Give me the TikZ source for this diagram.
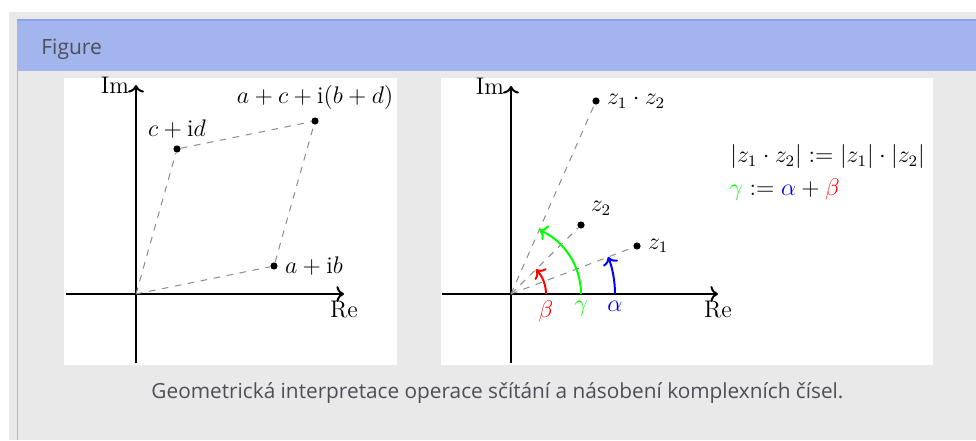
\documentclass[tikz,border=0pt]{standalone}
\usepackage{fontspec}
\usepackage{tikz}
\usetikzlibrary{arrows.meta,positioning}
\newfontfamily\uifont{Open Sans}
\definecolor{pagegray}{RGB}{233, 233, 233}
\definecolor{headerblue}{RGB}{162, 181, 236}
\definecolor{headerline}{RGB}{140, 164, 230}
\definecolor{labelgray}{RGB}{78, 78, 88}
\definecolor{guidegray}{RGB}{140, 140, 140}

\begin{document}
\begin{tikzpicture}[x=0.5pt, y=0.5pt,
    axis/.style={line width=1pt, ->},
    guide/.style={guidegray, line width=0.5pt, dash pattern=on 3.3pt off 3.3pt},
    dot/.style={circle, fill=black, inner sep=0pt, minimum size=3.6pt},
    mathlbl/.style={font=\fontsize{12}{14}\selectfont, inner sep=3.3pt},
    anglearc/.style={line width=1pt, ->}]
  % frame
  \useasboundingbox (0,0) rectangle (976,440);
  \fill[white] (0,0) rectangle (976,440);
  \fill[pagegray] (9,0) rectangle (976,428);
  \fill[headerblue] (17,369) rectangle (976,420);
  \draw[headerline, line width=0.75pt] (17,420) -- (976,420);
  \draw[headerblue, line width=0.9pt] (17.5,0) -- (17.5,369);
  \fill[white] (64,75) rectangle (397,362);
  \fill[white] (441,75) rectangle (933,362);
  \node[anchor=base west, inner sep=0pt, text=labelgray,
        font=\uifont\fontsize{10.5}{13}\selectfont] (title) at (41,385) {Figure};
  \node[anchor=base, inner sep=0pt, text=labelgray,
        font=\uifont\fontsize{10.4}{12}\selectfont] (caption) at (497.5,42)
        {Geometrická interpretace operace sčítání a násobení komplexních čísel.};

  % addition
  \begin{scope}[shift={(136,146)}]
    \coordinate (O1) at (0,0);
    \coordinate (xmin1) at (-70,0);
    \coordinate (xmax1) at (208,0);
    \coordinate (ymin1) at (0,-69);
    \coordinate (ymax1) at (0,209);
    \draw[axis] (xmin1) -- (xmax1);
    \draw[axis] (ymin1) -- (ymax1);
    \node[mathlbl, below] (re1) at (xmax1) {$\mathrm{Re}$};
    \node[mathlbl, left] (im1) at (ymax1) {$\mathrm{Im}$};
    \node[dot] (ab) at (138,28) {};
    \node[dot] (cd) at (41,145) {};
    \node[dot] (sum) at (179,173) {};
    \draw[guide] (O1) -- (ab);
    \draw[guide] (O1) -- (cd);
    \draw[guide] (ab) -- (sum);
    \draw[guide] (cd) -- (sum);
    \node[mathlbl, right] (ablbl) at (ab.east) {$a+\mathrm{i}b$};
    \node[mathlbl, above] (cdlbl) at (cd.north) {$c+\mathrm{i}d$};
    \node[mathlbl, above] (sumlbl) at (sum.north) {$a+c+\mathrm{i}(b+d)$};
  \end{scope}

  % multiplication
  \begin{scope}[shift={(511,146)}]
    \coordinate (O2) at (0,0);
    \coordinate (xmin2) at (-69,0);
    \coordinate (xmax2) at (207,0);
    \coordinate (ymin2) at (0,-69);
    \coordinate (ymax2) at (0,208);
    \draw[axis] (xmin2) -- (xmax2);
    \draw[axis] (ymin2) -- (ymax2);
    \node[mathlbl, below] (re2) at (xmax2) {$\mathrm{Re}$};
    \node[mathlbl, left] (im2) at (ymax2) {$\mathrm{Im}$};
    \node[dot] (z1) at (126,48) {};
    \node[dot] (z2) at (70,69) {};
    \node[dot] (prod) at (85,193) {};
    \draw[guide] (O2) -- (z1);
    \draw[guide] (O2) -- (z2);
    \draw[guide] (O2) -- (prod);
    \node[mathlbl, right] (z1lbl) at (z1.east) {$z_1$};
    \node[mathlbl, above right] (z2lbl) at (z2.north east) {$z_2$};
    \node[mathlbl, right] (prodlbl) at (prod.east) {$z_1\cdot z_2$};
    % angles
    \coordinate (bstart) at (35,0);
    \coordinate (gstart) at (70,0);
    \coordinate (astart) at (104,0);
    \draw[anglearc, red] (bstart) arc[start angle=0, end angle=44.6, radius=35];
    \draw[anglearc, green] (gstart) arc[start angle=0, end angle=66.2, radius=70];
    \draw[anglearc, blue] (astart) arc[start angle=0, end angle=20.9, radius=104];
    \node[mathlbl, below, text=red] (blbl) at (bstart) {$\beta$};
    \node[mathlbl, below, text=green] (glbl) at (gstart) {$\gamma$};
    \node[mathlbl, below, text=blue] (albl) at (astart) {$\alpha$};
  \end{scope}

  \node[mathlbl, anchor=west, inner sep=0pt] (eqabs) at (730,283.5)
        {$|z_1\cdot z_2| := |z_1|\cdot|z_2|$};
  \node[mathlbl, anchor=west, inner sep=0pt] (eqarg) at (729,250)
        {$\textcolor{green}{\gamma} := \textcolor{blue}{\alpha} + \textcolor{red}{\beta}$};
\end{tikzpicture}
\end{document}
